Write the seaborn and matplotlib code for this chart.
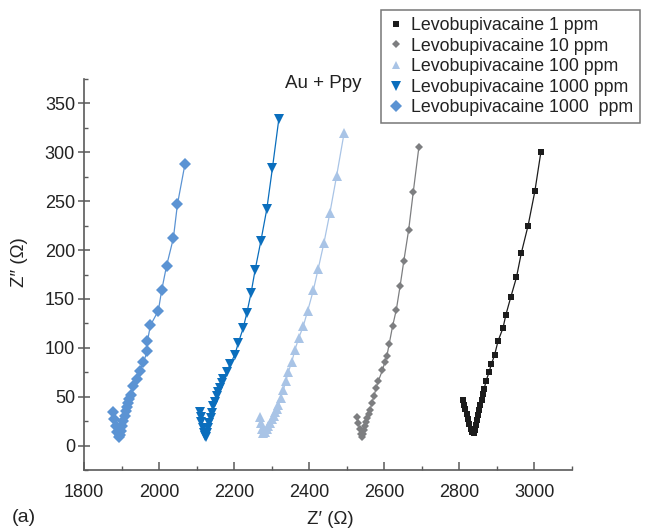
import numpy as np
import pandas as pd
import matplotlib
matplotlib.use("Agg")
import matplotlib.pyplot as plt
from matplotlib.lines import Line2D
from matplotlib.ticker import MultipleLocator
import seaborn as sns

# ---- data ----
labels = ["Levobupivacaine 1 ppm", "Levobupivacaine 10 ppm", "Levobupivacaine 100 ppm",
          "Levobupivacaine 1000 ppm", "Levobupivacaine 1000  ppm"]

x_1ppm = [2810, 2813, 2816, 2819, 2822, 2826, 2830, 2834, 2838, 2841, 2844, 2847, 2850, 2853,
          2856, 2859, 2863, 2866, 2871, 2879, 2885, 2894, 2903, 2916, 2924, 2937, 2952, 2965,
          2983, 3001, 3017]
y_1ppm = [47, 42, 37, 32, 27, 22, 17, 14, 13, 16, 21, 26, 31, 36,
          42, 47, 53, 58, 66, 75, 83, 93, 107, 120, 134, 152, 172, 197,
          225, 260, 300]

x_10ppm = [2528, 2531, 2534, 2537, 2540, 2543, 2546, 2549, 2552, 2555, 2559, 2562, 2567, 2573,
           2578, 2584, 2595, 2601, 2607, 2613, 2622, 2632, 2642, 2652, 2665, 2677, 2692]
y_10ppm = [29, 23, 17, 12, 9, 12, 16, 20, 24, 28, 32, 36, 44, 51,
           59, 66, 77, 85, 92, 104, 122, 139, 163, 189, 221, 259, 305]

x_100ppm = [2269, 2271, 2274, 2278, 2282, 2287, 2291, 2296, 2300, 2305, 2309, 2314, 2318, 2324,
            2331, 2338, 2344, 2353, 2362, 2372, 2384, 2396, 2411, 2424, 2439, 2455, 2473, 2493]
y_100ppm = [29, 23, 17, 13, 14, 17, 20, 23, 27, 30, 34, 37, 41, 49,
            57, 66, 75, 85, 98, 110, 122, 138, 159, 181, 207, 238, 276, 320]

x_1000ppm_a = [2109, 2111, 2113, 2116, 2119, 2122, 2125, 2128, 2131, 2134, 2137, 2140, 2144, 2148,
               2153, 2158, 2162, 2167, 2171, 2180, 2189, 2202, 2211, 2224, 2234, 2245, 2256, 2271,
               2287, 2302, 2319]
y_1000ppm_a = [34, 29, 24, 18, 13, 10, 9, 13, 18, 23, 28, 33, 40, 45,
               51, 55, 59, 64, 68, 75, 83, 93, 105, 120, 136, 156, 180, 209,
               242, 284, 334]

x_1000ppm_b = [1877, 1880, 1884, 1888, 1892, 1895, 1898, 1902, 1905, 1909, 1912, 1915, 1918, 1921,
               1924, 1931, 1940, 1949, 1958, 1969, 1969, 1977, 1998, 2007, 2020, 2038, 2049, 2069]
y_1000ppm_b = [34, 27, 20, 14, 9, 11, 15, 20, 25, 30, 35, 39, 44, 48,
               52, 61, 68, 76, 85, 97, 107, 123, 138, 159, 184, 212, 247, 288]

xs = [x_1ppm, x_10ppm, x_100ppm, x_1000ppm_a, x_1000ppm_b]
ys = [y_1ppm, y_10ppm, y_100ppm, y_1000ppm_a, y_1000ppm_b]

colors = ["#1c1c1c", "#7d7e80", "#a9c4e6", "#0a6ebd", "#5b93d3"]
markers = ["s", "D", "^", "v", "D"]
msizes = [4.8, 4.3, 7.0, 7.0, 6.0]
leg_sizes = [4.5, 4.5, 6.0, 6.5, 6.0]

# ---- style ----
sns.set_style("ticks")
plt.rcParams["font.family"] = ["Liberation Sans", "DejaVu Sans"]

fig = plt.figure(figsize=(6.45, 5.32), dpi=100)
ax = fig.add_axes([84 / 645, 1 - 470 / 532, (572 - 84) / 645, (470 - 79) / 532])

for x, y, c, m, ms, lab in zip(xs, ys, colors, markers, msizes, labels):
    df = pd.DataFrame({"x": x, "y": y})
    sns.lineplot(data=df, x="x", y="y", sort=False, estimator=None, ax=ax,
                 color=c, linewidth=0.9, marker=m, markersize=ms,
                 markeredgewidth=0, markerfacecolor=c, legend=False)

ax.set_xlim(1800, 3100)
ax.set_ylim(-25, 375)
ax.xaxis.set_major_locator(MultipleLocator(200))
ax.xaxis.set_minor_locator(MultipleLocator(100))
ax.yaxis.set_major_locator(MultipleLocator(50))
ax.yaxis.set_minor_locator(MultipleLocator(25))

spine_c = "#5a5a5a"
for s in ["top", "right"]:
    ax.spines[s].set_visible(False)
for s in ["left", "bottom"]:
    ax.spines[s].set_color(spine_c)
    ax.spines[s].set_linewidth(1.2)

ax.tick_params(axis="x", which="major", direction="in", length=6, width=1.1,
               color=spine_c, labelsize=13, pad=10, labelcolor="#222222")
ax.tick_params(axis="x", which="minor", direction="in", length=3, width=1.0, color=spine_c)
ax.tick_params(axis="y", which="major", direction="inout", length=9, width=1.1,
               color=spine_c, labelsize=13, pad=2, labelcolor="#222222")
ax.tick_params(axis="y", which="minor", direction="in", length=3, width=1.0, color=spine_c)

ax.set_xlabel("")
ax.set_ylabel("")
fig.text(330 / 645, 1 - 519 / 532, "Z\u2032 (\u03a9)", ha="center", va="center",
         fontsize=13.5, color="#222222")
fig.text(20 / 645, 1 - 262 / 532, "Z\u2033 (\u03a9)", ha="center", va="center",
         rotation=90, fontsize=13.5, color="#222222")
fig.text(24 / 645, 1 - 518 / 532, "(a)", ha="center", va="center",
         fontsize=14, color="#222222")
fig.text(323 / 645, 1 - 84 / 532, "Au + Ppy", ha="center", va="center",
         fontsize=13.5, color="#222222")

handles = [Line2D([], [], linestyle="none", marker=m, color=c, markersize=s,
                  markeredgewidth=0)
           for m, c, s in zip(markers, colors, leg_sizes)]
leg = fig.legend(handles, labels, loc="upper right",
                 bbox_to_anchor=(640 / 645, 1 - 10 / 532), bbox_transform=fig.transFigure,
                 borderaxespad=0, fancybox=False, frameon=True, fontsize=12.8,
                 handlelength=0.8, handletextpad=0.45, labelspacing=0.2,
                 borderpad=0.4)
leg.get_frame().set_edgecolor("#555555")
leg.get_frame().set_linewidth(1.1)
for t in leg.get_texts():
    t.set_color("#222222")

fig.savefig("out.png", dpi=100)
